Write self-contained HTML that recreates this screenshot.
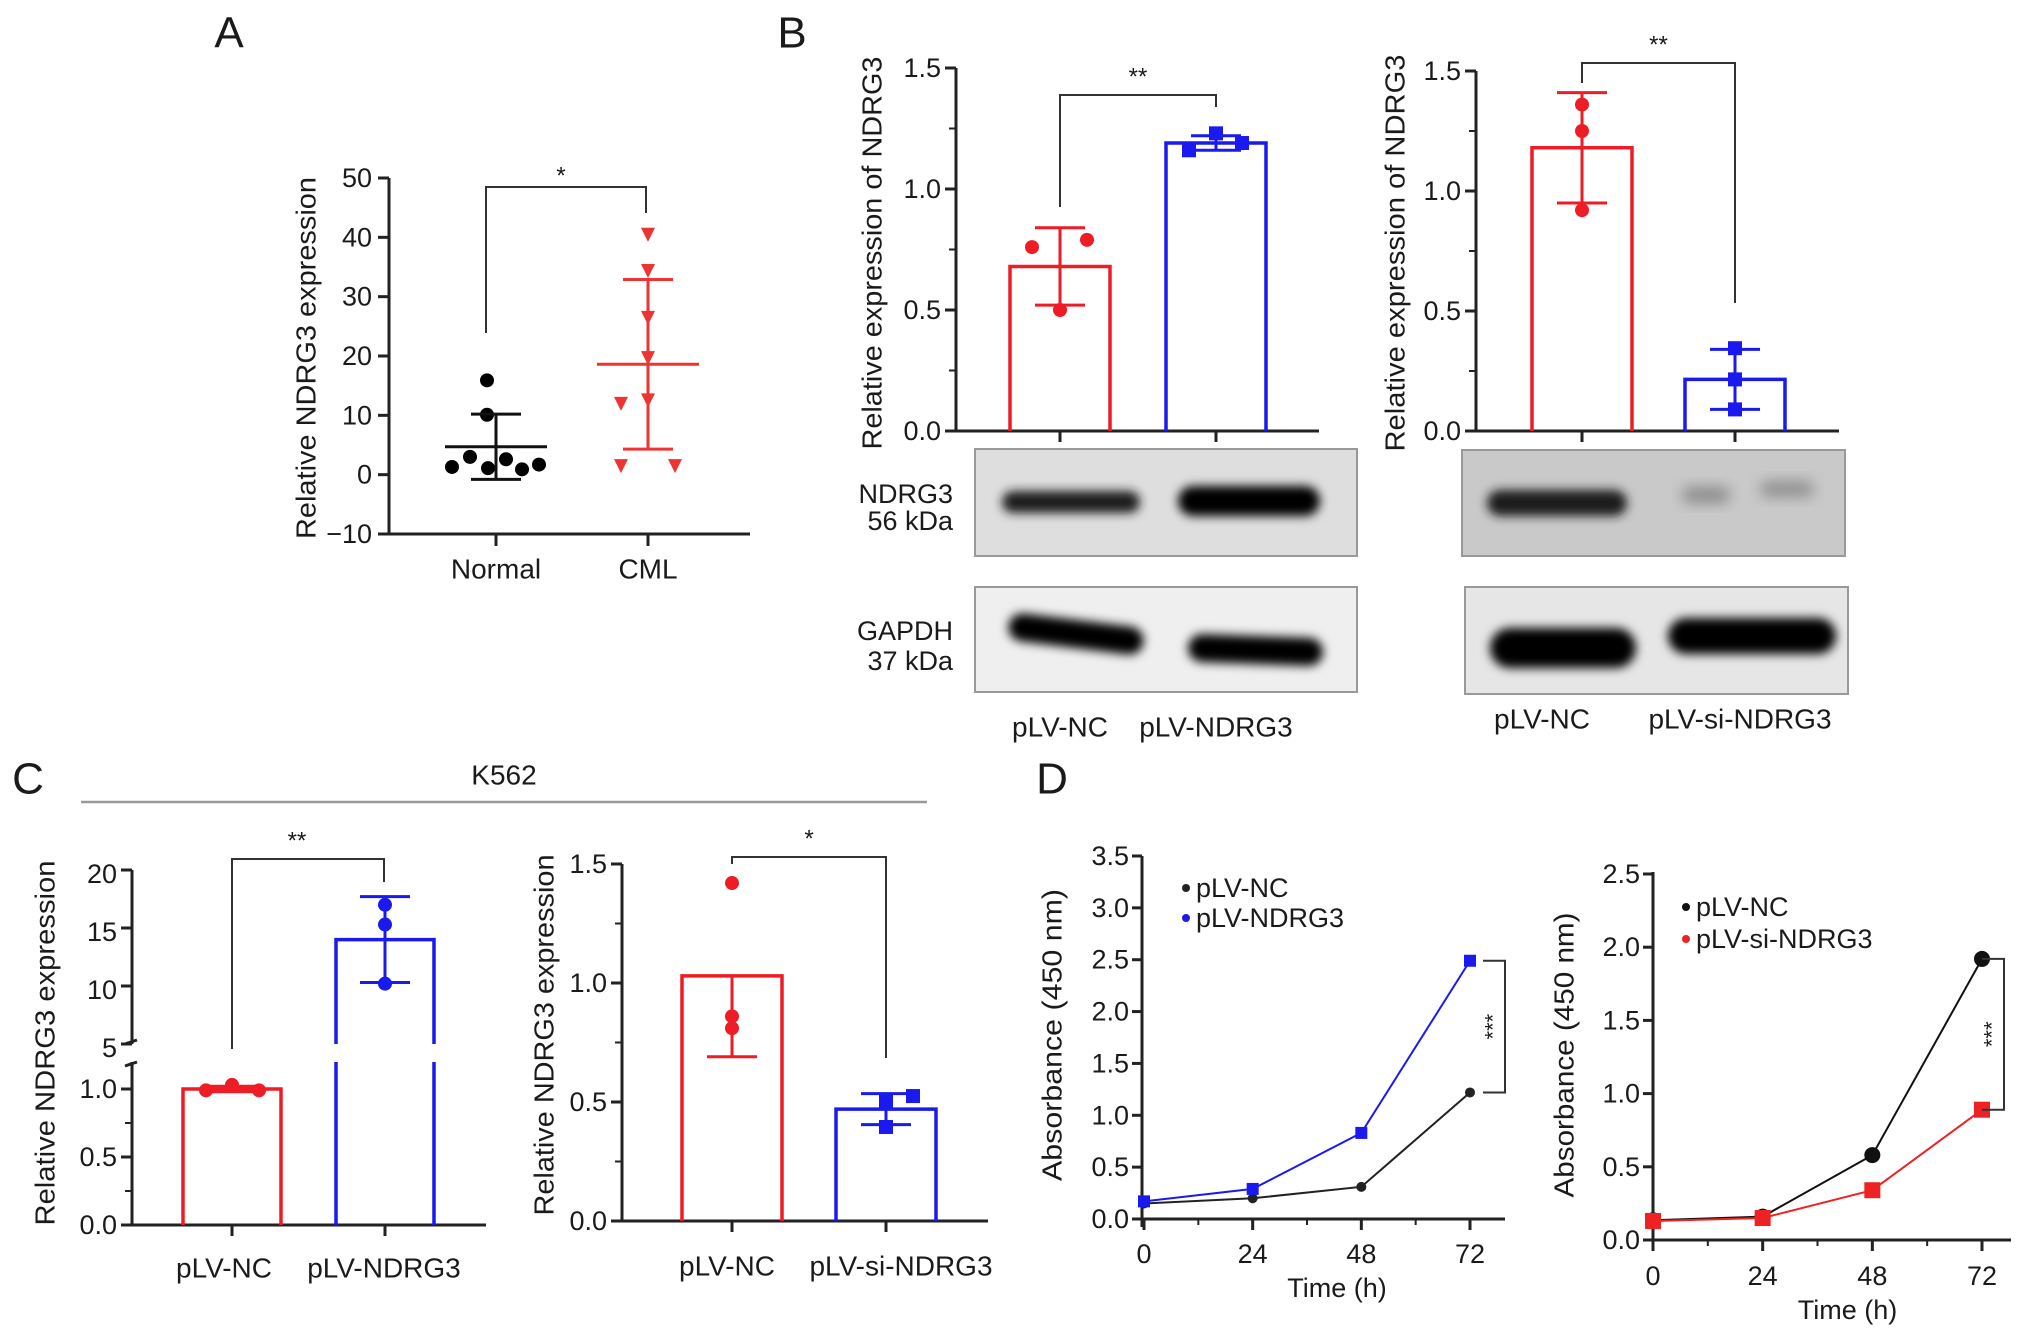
<!DOCTYPE html>
<html><head><meta charset="utf-8">
<style>
html,body{margin:0;padding:0;background:#fff;}
svg{display:block;}
text{font-family:"Liberation Sans",Arial,sans-serif;fill:#1a1a1a;}
</style></head>
<body>
<svg id="fig" width="2032" height="1338" viewBox="0 0 2032 1338" xmlns="http://www.w3.org/2000/svg">
<defs>
<filter id="blur" x="-20%" y="-60%" width="140%" height="220%"><feGaussianBlur stdDeviation="5"/></filter>
<filter id="blur2" x="-20%" y="-60%" width="140%" height="220%"><feGaussianBlur stdDeviation="7"/></filter>
</defs>
</svg>
<script>
// ---------- DATA ----------
// Panel A
const aCategories = ['Normal', 'CML'];
const aNormal = [15.9, 10.1, 3.0, 1.3, 1.1, 2.6, 0.9, 1.7];
const aCML = [40.6, 34.5, 26.6, 19.8, 12.7, 12.1, 1.6, 1.6];
const aMean = [4.7, 18.6];
const aSD = [5.5, 14.3];
const aYTicks = [-10, 0, 10, 20, 30, 40, 50];
// Panel B left
const bLCategories = ['pLV-NC', 'pLV-NDRG3'];
const bLMean = [0.68, 1.19];
const bLSD = [0.16, 0.03];
const bLPoints = [[0.76, 0.50, 0.79], [1.16, 1.23, 1.19]];
// Panel B right
const bRCategories = ['pLV-NC', 'pLV-si-NDRG3'];
const bRMean = [1.18, 0.215];
const bRSD = [0.23, 0.125];
const bRPoints = [[1.36, 1.25, 0.92], [0.345, 0.215, 0.09]];
const bYTicks = ['0.0', '0.5', '1.0', '1.5'];
// Panel C left
const cLCategories = ['pLV-NC', 'pLV-NDRG3'];
const cLMean = [1.0, 14.0];
const cLSD = [0.02, 3.7];
const cLPoints = [[0.99, 1.03, 0.99], [17.0, 15.3, 10.2]];
const cLLowTicks = ['0.0', '0.5', '1.0'];
const cLHighTicks = ['5', '10', '15', '20'];
// Panel C right
const cRCategories = ['pLV-NC', 'pLV-si-NDRG3'];
const cRMean = [1.03, 0.47];
const cRSD = [0.34, 0.065];
const cRPoints = [[1.42, 0.86, 0.81], [0.50, 0.525, 0.395]];
// Panel D
const dTimes = [0, 24, 48, 72];
const dLNC = [0.15, 0.20, 0.31, 1.22];
const dLNDRG3 = [0.17, 0.29, 0.83, 2.49];
const dLYTicks = ['0.0','0.5','1.0','1.5','2.0','2.5','3.0','3.5'];
const dRNC = [0.135, 0.16, 0.58, 1.92];
const dRSi = [0.13, 0.15, 0.34, 0.89];
const dRYTicks = ['0.0','0.5','1.0','1.5','2.0','2.5'];

// ---------- HELPERS ----------
const NS = 'http://www.w3.org/2000/svg';
const svg = document.getElementById('fig');
function el(tag, attrs, parent) {
  const e = document.createElementNS(NS, tag);
  for (const k in attrs) e.setAttribute(k, attrs[k]);
  (parent || svg).appendChild(e);
  return e;
}
function group(name) {
  const g = el('g', {});
  
  
  return g;
}
function text(s, x, y, size, anchor, parent, rot) {
  const t = el('text', {x: x, y: y, 'font-size': size, 'text-anchor': anchor || 'middle', 'dominant-baseline': 'central'}, parent);
  if (rot) t.setAttribute('transform', 'rotate(-90 ' + x + ' ' + y + ')');
  t.textContent = s;
  return t;
}
function line(x1, y1, x2, y2, color, w, parent) {
  return el('line', {x1: x1, y1: y1, x2: x2, y2: y2, stroke: color, 'stroke-width': w}, parent);
}
function lin(d0, d1, p0, p1) { return v => p0 + (v - d0) * (p1 - p0) / (d1 - d0); }

const RED = '#ee1c25', BLUE = '#1a1aee', DARK = '#222';

// Panel letters
[['A', 229, 33], ['B', 792, 33], ['C', 28, 779], ['D', 1052, 779]].forEach(p => {
  const t = text(p[0], p[1], p[2], 44, 'middle');
  
  
});

// ---------- PANEL A ----------
(function () {
  const g = group('panel-a-scatter');
  const y = lin(-10, 50, 534, 178);
  const xs = [496, 648];
  const jitN = [-9, -9, -26, -44, -8, 10, 26, 43];
  const jitC = [0, 0, 0, 0, 0, -27, -27, 27];
  line(389, 178, 389, 534, DARK, 3, g);
  line(387, 534, 750, 534, DARK, 3, g);
  aYTicks.forEach(v => {
    line(378, y(v), 389, y(v), DARK, 3, g);
    const t = text(v < 0 ? '\u221210' : String(v), 372, y(v), 27, 'end', g);
    
    
  });
  aCategories.forEach((c, i) => {
    line(xs[i], 534, xs[i], 546, DARK, 3, g);
    const t = text(c, xs[i], 569, 28, 'middle', g);
    
    
  });
  const tt = text('Relative NDRG3 expression', 306, 358, 28, 'middle', g, true);
  tt.setAttribute('textLength', 362);
  tt.setAttribute('lengthAdjust', 'spacingAndGlyphs');
  
  
  aNormal.forEach((v, i) => {
    const c = el('circle', {cx: xs[0] + jitN[i], cy: y(v), r: 7, fill: '#000'}, g);
    
    
  });
  aCML.forEach((v, i) => {
    const cx = xs[1] + jitC[i], cy = y(v);
    const p = el('polygon', {points: (cx - 7) + ',' + (cy - 6) + ' ' + (cx + 7) + ',' + (cy - 6) + ' ' + cx + ',' + (cy + 8), fill: '#ee3333'}, g);
    
    
  });
  const col = ['#111', '#ee3333'];
  const mw = [51, 51], cw = [25, 25];
  [0, 1].forEach(i => {
    line(xs[i] - mw[i], y(aMean[i]), xs[i] + mw[i], y(aMean[i]), col[i], 3, g);
    line(xs[i], y(aMean[i] - aSD[i]), xs[i], y(aMean[i] + aSD[i]), col[i], 3, g);
    line(xs[i] - cw[i], y(aMean[i] + aSD[i]), xs[i] + cw[i], y(aMean[i] + aSD[i]), col[i], 3, g);
    line(xs[i] - cw[i], y(aMean[i] - aSD[i]), xs[i] + cw[i], y(aMean[i] - aSD[i]), col[i], 3, g);
  });
  const br = el('polyline', {points: '486,333 486,187 646,187 646,213', fill: 'none', stroke: '#333', 'stroke-width': 2}, g);
  
  
  text('*', 561, 176, 24, 'middle', g);
})();

// ---------- bar chart helper ----------
function barChart(name, cfg) {
  const g = group(name);
  const y = cfg.y;
  // axes
  line(cfg.ax, cfg.yTop, cfg.ax, cfg.y0, DARK, 3, g);
  line(cfg.ax - 1, cfg.y0, cfg.axEnd, cfg.y0, DARK, 3, g);
  cfg.ticks.forEach(s => {
    const v = parseFloat(s);
    line(cfg.ax - 11, y(v), cfg.ax, y(v), DARK, 3, g);
    const t = text(s, cfg.ax - 15, y(v), 27, 'end', g);
    
    
  });
  (cfg.minor || []).forEach(v => line(cfg.ax - 7, y(v), cfg.ax, y(v), DARK, 2, g));
  const cols = [RED, BLUE];
  cfg.cats.forEach((c, i) => {
    const cx = cfg.xs[i];
    line(cx, cfg.y0, cx, cfg.y0 + 11, DARK, 3, g);
    const t = text(c, cx + (cfg.labOff ? cfg.labOff[i] : 0), cfg.labY, 28, 'middle', g);
    
    
    const hw = cfg.bw / 2;
    const top = y(cfg.mean[i]);
    const b = el('path', {d: 'M' + (cx - hw) + ',' + cfg.y0 + ' L' + (cx - hw) + ',' + top + ' L' + (cx + hw) + ',' + top + ' L' + (cx + hw) + ',' + cfg.y0, fill: 'none', stroke: cols[i], 'stroke-width': 3.5}, g);
    
    
    const up = y(cfg.mean[i] + cfg.sd[i]), lo = y(cfg.mean[i] - cfg.sd[i]);
    if (!(cfg.noUpper && cfg.noUpper[i])) {
      line(cx, top, cx, up, cols[i], 3, g);
      line(cx - 25, up, cx + 25, up, cols[i], 3, g);
    }
    line(cx, top, cx, lo, cols[i], 3, g);
    line(cx - 25, lo, cx + 25, lo, cols[i], 3, g);
    const jit = [-27, 0, 27];
    cfg.pts[i].forEach((v, k) => {
      const px = cx + (cfg.jit ? cfg.jit[i][k] : jit[k]);
      let m;
      if (i === 0) m = el('circle', {cx: px, cy: y(v), r: 7, fill: RED}, g);
      else m = el('rect', {x: px - 7, y: y(v) - 7, width: 14, height: 14, fill: BLUE}, g);
      
      
    });
  });
  const br = el('polyline', {points: cfg.xs[0] + ',' + cfg.brL + ' ' + cfg.xs[0] + ',' + cfg.brTop + ' ' + cfg.xs[1] + ',' + cfg.brTop + ' ' + cfg.xs[1] + ',' + cfg.brR, fill: 'none', stroke: '#333', 'stroke-width': 2}, g);
  
  
  text(cfg.star, (cfg.xs[0] + cfg.xs[1]) / 2, cfg.brTop - 18, 24, 'middle', g);
  const tt = text(cfg.title, cfg.tx, cfg.ty, 28, 'middle', g, true);
  tt.setAttribute('textLength', cfg.tlen);
  tt.setAttribute('lengthAdjust', 'spacingAndGlyphs');
  
  
  return g;
}

// B left
barChart('panel-b-left-bars', {
  y: lin(0, 1.5, 431, 68), ax: 956, yTop: 68, y0: 431, axEnd: 1319,
  ticks: bYTicks, minor: [0.25, 0.75, 1.25], cats: bLCategories, xs: [1060, 1216], bw: 100,
  mean: bLMean, sd: bLSD, pts: bLPoints, jit: [[-28, 0, 27], [-27, 0, 26]], labY: 727,
  brL: 207, brR: 107, brTop: 95, star: '**', title: 'Relative expression of NDRG3', tx: 872, ty: 253, tlen: 393
});
// B right
barChart('panel-b-right-bars', {
  y: lin(0, 1.5, 431, 71), ax: 1476, yTop: 71, y0: 431, axEnd: 1839,
  ticks: bYTicks, minor: [0.25, 0.75, 1.25], cats: bRCategories, xs: [1582, 1735], bw: 100,
  mean: bRMean, sd: bRSD, pts: bRPoints, jit: [[0, 0, 0], [0, 0, 0]], labY: 719, labOff: [-40, 5],
  brL: 83, brR: 303, brTop: 63, star: '**', title: 'Relative expression of NDRG3', tx: 1395, ty: 253, tlen: 397
});
// C right
barChart('panel-c-right-bars', {
  y: lin(0, 1.5, 1221, 864), ax: 622, yTop: 864, y0: 1221, axEnd: 988,
  ticks: ['0.0', '0.5', '1.0', '1.5'], minor: [0.25, 0.75, 1.25], cats: cRCategories, xs: [732, 886], bw: 100,
  mean: cRMean, sd: cRSD, pts: cRPoints, jit: [[0, 0, 0], [0, 27, 0]], noUpper: [true, false], labY: 1266, labOff: [-5, 15],
  brL: 864, brR: 1058, brTop: 857, star: '*', title: 'Relative NDRG3 expression', tx: 544, ty: 1035, tlen: 361
});

// C left (broken axis)
(function () {
  const g = group('panel-c-left-bars');
  const yl = lin(0, 1.0, 1225, 1089);
  const yh = lin(5, 20, 1044, 870);
  const y = v => v <= 1.2 ? yl(v) : yh(v);
  const ax = 132, y0 = 1225;
  line(ax, 870, ax, 1044, DARK, 3, g);
  line(ax, 1062, ax, y0, DARK, 3, g);
  line(ax - 7, 1044, ax + 5, 1040, DARK, 3, g);
  line(ax - 7, 1066, ax + 5, 1062, DARK, 3, g);
  line(ax - 1, y0, 486, y0, DARK, 3, g);
  cLLowTicks.forEach(s => {
    const v = parseFloat(s);
    line(ax - 11, yl(v), ax, yl(v), DARK, 3, g);
    const t = text(s, ax - 15, yl(v), 27, 'end', g);
    
    
  });
  [0.25, 0.75].forEach(v => line(ax - 7, yl(v), ax, yl(v), DARK, 2, g));
  cLHighTicks.forEach(s => {
    const v = parseFloat(s);
    line(ax - 11, yh(v), ax, yh(v), DARK, 3, g);
    const t = text(s, ax - 15, yh(v) + 4, 27, 'end', g);
    
    
  });
  const xs = [232, 385], cols = [RED, BLUE];
  cLCategories.forEach((c, i) => {
    const cx = xs[i];
    line(cx, y0, cx, y0 + 11, DARK, 3, g);
    const t = text(c, cx - 8 + i * 7, 1268, 28, 'middle', g);
    
    
    const top = y(cLMean[i]);
    let d;
    if (cLMean[i] > 1.2) {
      d = 'M' + (cx - 49) + ',1044 L' + (cx - 49) + ',' + top + ' L' + (cx + 49) + ',' + top + ' L' + (cx + 49) + ',1044 M' + (cx - 49) + ',1062 L' + (cx - 49) + ',' + y0 + ' M' + (cx + 49) + ',1062 L' + (cx + 49) + ',' + y0;
    } else {
      d = 'M' + (cx - 49) + ',' + y0 + ' L' + (cx - 49) + ',' + top + ' L' + (cx + 49) + ',' + top + ' L' + (cx + 49) + ',' + y0;
    }
    const b = el('path', {d: d, fill: 'none', stroke: cols[i], 'stroke-width': 3.5}, g);
    
    
    const up = y(cLMean[i] + cLSD[i]), lo = y(cLMean[i] - cLSD[i]);
    line(cx, up, cx, lo, cols[i], 3, g);
    line(cx - 25, up, cx + 25, up, cols[i], 3, g);
    line(cx - 25, lo, cx + 25, lo, cols[i], 3, g);
    const jit = i === 0 ? [-26, 0, 27] : [0, 0, 0];
    cLPoints[i].forEach((v, k) => {
      const m = el('circle', {cx: cx + jit[k], cy: y(v), r: 7, fill: cols[i]}, g);
      
      
    });
  });
  const br = el('polyline', {points: '232,1049 232,859 384,859 384,882', fill: 'none', stroke: '#333', 'stroke-width': 2}, g);
  
  
  text('**', 297, 841, 24, 'middle', g);
  const tt = text('Relative NDRG3 expression', 45, 1043, 28, 'middle', g, true);
  tt.setAttribute('textLength', 365);
  tt.setAttribute('lengthAdjust', 'spacingAndGlyphs');
  
  
})();

// K562 header
(function () {
  const g = group('k562-header');
  text('K562', 504, 775, 28, 'middle', g);
  line(81, 802, 927, 802, '#999', 2.5, g);
})();

// ---------- BLOTS ----------
function blot(name, x, y, w, h, fill, bands) {
  const g = group(name);
  const r = el('rect', {x: x, y: y, width: w, height: h, fill: fill, stroke: '#999', 'stroke-width': 2}, g);
  bands.forEach(b => {
    const e = el('rect', {x: b[0], y: b[1], width: b[2], height: b[3], rx: b[3] / 2, fill: b[4], filter: b[5] ? 'url(#blur2)' : 'url(#blur)', transform: 'rotate(' + (b[6] || 0) + ' ' + (b[0] + b[2] / 2) + ' ' + (b[1] + b[3] / 2) + ')'}, g);
    
    
  });
  return g;
}
blot('ndrg3-blot-left', 975, 449, 382, 107, '#dedede', [
  [1002, 491, 138, 22, '#1a1a1a', 0, 0], [1178, 486, 142, 30, '#050505', 0, 0]]);
blot('gapdh-blot-left', 975, 587, 382, 105, '#efefef', [
  [1008, 620, 136, 28, '#000', 0, 7], [1188, 636, 135, 28, '#000', 0, 2]]);
blot('ndrg3-blot-right', 1462, 450, 383, 106, '#c9c9c9', [
  [1487, 490, 140, 26, '#1c1c1c', 0, 0], [1682, 487, 48, 16, '#8a8a8a', 1, 0], [1760, 481, 54, 16, '#8f8f8f', 1, 0]]);
blot('gapdh-blot-right', 1465, 587, 383, 107, '#e6e6e6', [
  [1490, 628, 146, 40, '#000', 0, 0], [1668, 618, 168, 36, '#000', 0, 0]]);
(function () {
  const g = group('blot-labels');
  text('NDRG3', 953, 494, 27, 'end', g);
  text('56 kDa', 953, 521, 27, 'end', g);
  text('GAPDH', 953, 631, 27, 'end', g);
  text('37 kDa', 953, 661, 27, 'end', g);
})();

// ---------- PANEL D ----------
function lineChart(name, cfg) {
  const g = group(name);
  const y = cfg.y, x = lin(0, 72, cfg.x0, cfg.x72);
  line(cfg.ax, cfg.yTop, cfg.ax, cfg.y0 + 8, DARK, 3, g);
  line(cfg.ax - 1, cfg.y0, cfg.axEnd, cfg.y0, DARK, 3, g);
  cfg.ticks.forEach(s => {
    const v = parseFloat(s);
    line(cfg.ax - 10, y(v), cfg.ax, y(v), DARK, 3, g);
    const t = text(s, cfg.ax - 13, y(v), 27, 'end', g);
    
    
  });
  [12, 36, 60].forEach(v => line(x(v), cfg.y0, x(v), cfg.y0 + 6, DARK, 2, g));
  dTimes.forEach(v => {
    line(x(v), cfg.y0, x(v), cfg.y0 + 11, DARK, 3, g);
    const t = text(String(v), x(v), cfg.labY, 27, 'middle', g);
    
    
  });
  const xt = text('Time (h)', (cfg.x0 + cfg.x72) / 2 + 30, cfg.labY + 34, 27, 'middle', g);
  
  
  const tt = text('Absorbance (450 nm)', cfg.tx, cfg.ty, 28, 'middle', g, true);
  tt.setAttribute('textLength', cfg.tlen);
  tt.setAttribute('lengthAdjust', 'spacingAndGlyphs');
  
  
  cfg.series.forEach(s => {
    const pl = el('polyline', {points: s.vals.map((v, i) => x(dTimes[i]) + ',' + y(v)).join(' '), fill: 'none', stroke: s.color, 'stroke-width': 2}, g);
    
    
    s.vals.forEach((v, i) => {
      let m;
      if (s.shape === 'sq') m = el('rect', {x: x(dTimes[i]) - s.r, y: y(v) - s.r, width: 2 * s.r, height: 2 * s.r, fill: s.color}, g);
      else m = el('circle', {cx: x(dTimes[i]), cy: y(v), r: s.r, fill: s.color}, g);
      
      
    });
  });
  cfg.series.forEach((s, k) => {
    const ly = cfg.legY[k];
    const m = el('circle', {cx: cfg.legX, cy: ly, r: 4, fill: s.color}, g);
    
    
    const t = text(s.name, cfg.legX + 10, ly, 27, 'start', g);
    
    
  });
  const a = cfg.series[0].vals[3], b = cfg.series[1].vals[3];
  const hi = Math.min(y(a), y(b)), lo = Math.max(y(a), y(b));
  const bx = cfg.brX;
  const br = el('polyline', {points: (bx - 22) + ',' + hi + ' ' + bx + ',' + hi + ' ' + bx + ',' + lo + ' ' + (bx - 22) + ',' + lo, fill: 'none', stroke: '#333', 'stroke-width': 2}, g);
  
  
  const st = text('***', bx - 12, (hi + lo) / 2, 22, 'middle', g, true);
  
  
}
lineChart('panel-d-left-growth', {
  y: lin(0, 3.5, 1219, 856), ax: 1142, yTop: 856, y0: 1219, axEnd: 1505, x0: 1144, x72: 1470,
  ticks: dLYTicks, labY: 1254, tx: 1052, ty: 1035, tlen: 292, legX: 1186, legY: [888, 918], brX: 1505,
  series: [{name: 'pLV-NC', vals: dLNC, color: '#222', shape: 'c', r: 5},
           {name: 'pLV-NDRG3', vals: dLNDRG3, color: BLUE, shape: 'sq', r: 6}]
});
lineChart('panel-d-right-growth', {
  y: lin(0, 2.5, 1240, 874), ax: 1653, yTop: 872, y0: 1240, axEnd: 2011, x0: 1653, x72: 1982,
  ticks: dRYTicks, labY: 1276, tx: 1564, ty: 1055, tlen: 285, legX: 1686, legY: [907, 939], brX: 2004,
  series: [{name: 'pLV-NC', vals: dRNC, color: '#111', shape: 'c', r: 8},
           {name: 'pLV-si-NDRG3', vals: dRSi, color: '#ee2222', shape: 'sq', r: 8}]
});
</script>
</body></html>
